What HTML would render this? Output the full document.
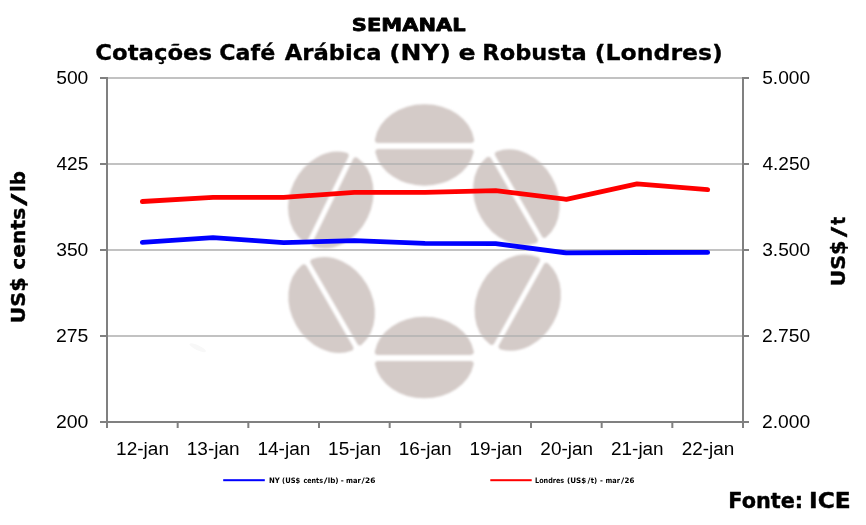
<!DOCTYPE html>
<html lang="pt-BR">
<head>
<meta charset="utf-8">
<title>Cotações Café Arábica (NY) e Robusta (Londres)</title>
<style>
html,body{margin:0;padding:0;background:#fff;}
body{width:866px;height:525px;overflow:hidden;}
svg{display:block;}
.v{font-family:"DejaVu Sans","Liberation Sans",sans-serif;font-weight:bold;fill:#000;}
.c{font-family:"Liberation Sans",sans-serif;font-size:18px;fill:#000;}
</style>
</head>
<body>
<svg width="866" height="525" viewBox="0 0 866 525">
<defs><filter id="bl" x="-5%" y="-5%" width="110%" height="110%"><feGaussianBlur stdDeviation="0.8"/></filter></defs>
<rect width="866" height="525" fill="#fff"/>
<g fill="#d4cbc8" stroke="#d4cbc8" stroke-width="6" stroke-linejoin="round" filter="url(#bl)">
<path transform="translate(424.5,145.0) rotate(0)" d="M-46.57,-5.10 A47.00,37.80 0 0 1 46.57,-5.10 Z M-46.16,7.10 A47.00,37.80 0 0 0 46.16,7.10 Z"/>
<path transform="translate(516.4,197.3) rotate(60)" d="M-46.50,-5.50 A47.00,37.80 0 0 1 46.50,-5.50 Z M-46.50,5.50 A47.00,37.80 0 0 0 46.50,5.50 Z"/>
<path transform="translate(517.7,302.7) rotate(-61)" d="M-46.76,-3.80 A47.00,37.80 0 0 1 46.76,-3.80 Z M-46.14,7.20 A47.00,37.80 0 0 0 46.14,7.20 Z"/>
<path transform="translate(424.3,357.5) rotate(0)" d="M-46.48,-5.60 A47.00,37.80 0 0 1 46.48,-5.60 Z M-46.32,6.40 A47.00,37.80 0 0 0 46.32,6.40 Z"/>
<path transform="translate(331.6,305.0) rotate(60)" d="M-46.44,-5.80 A47.00,37.80 0 0 1 46.44,-5.80 Z M-46.55,5.20 A47.00,37.80 0 0 0 46.55,5.20 Z"/>
<path transform="translate(330.8,200.0) rotate(-64)" d="M-46.38,-6.10 A47.00,37.80 0 0 1 46.38,-6.10 Z M-46.57,5.10 A47.00,37.80 0 0 0 46.57,5.10 Z"/>
</g>
<ellipse cx="197.7" cy="347.7" rx="9" ry="2.5" transform="rotate(25 197.7 347.7)" fill="#f8f8f8"/>
<g>
<rect x="108" y="77.2" width="634" height="1.6" fill="#b4b4b4"/>
<rect x="108" y="163.2" width="634" height="1.6" fill="#b4b4b4"/>
<rect x="108" y="249.2" width="634" height="1.6" fill="#b4b4b4"/>
<rect x="108" y="335.2" width="634" height="1.6" fill="#b4b4b4"/>
</g>
<g fill="#808080">
<rect x="106" y="77" width="2" height="351"/>
<rect x="742" y="77" width="2" height="351"/>
<rect x="106" y="421" width="638" height="2"/>
<rect x="100" y="77" width="7" height="2"/><rect x="743" y="77" width="6" height="2"/>
<rect x="100" y="163" width="7" height="2"/><rect x="743" y="163" width="6" height="2"/>
<rect x="100" y="249" width="7" height="2"/><rect x="743" y="249" width="6" height="2"/>
<rect x="100" y="335" width="7" height="2"/><rect x="743" y="335" width="6" height="2"/>
<rect x="100" y="421" width="7" height="2"/><rect x="743" y="421" width="6" height="2"/>
<rect x="106.00" y="422" width="2" height="6"/>
<rect x="176.67" y="422" width="2" height="6"/>
<rect x="247.33" y="422" width="2" height="6"/>
<rect x="318.00" y="422" width="2" height="6"/>
<rect x="388.67" y="422" width="2" height="6"/>
<rect x="459.33" y="422" width="2" height="6"/>
<rect x="530.00" y="422" width="2" height="6"/>
<rect x="600.67" y="422" width="2" height="6"/>
<rect x="671.33" y="422" width="2" height="6"/>
<rect x="742.00" y="422" width="2" height="6"/>
</g>
<polyline points="142.33,201.50 213.00,197.40 283.67,197.40 354.33,192.30 425.00,192.30 495.67,190.60 566.33,199.30 637.00,183.90 707.67,189.70" fill="none" stroke="#ff0000" stroke-width="4.8" stroke-linecap="round" stroke-linejoin="round"/>
<polyline points="142.33,242.40 213.00,237.70 283.67,242.60 354.33,240.60 425.00,243.40 495.67,243.70 566.33,252.90 637.00,252.50 707.67,252.40" fill="none" stroke="#0000ff" stroke-width="4.8" stroke-linecap="round" stroke-linejoin="round"/>
<g class="c">
<text x="56.2" y="84.4" font-size="18" textLength="32.16" lengthAdjust="spacingAndGlyphs">500</text>
<text x="56.47" y="170.4" font-size="18" textLength="31.88" lengthAdjust="spacingAndGlyphs">425</text>
<text x="56.2" y="256.4" font-size="18" textLength="32.16" lengthAdjust="spacingAndGlyphs">350</text>
<text x="55.92" y="342.4" font-size="18" textLength="32.44" lengthAdjust="spacingAndGlyphs">275</text>
<text x="55.92" y="428.4" font-size="18" textLength="32.44" lengthAdjust="spacingAndGlyphs">200</text>
<text x="762.2" y="84.4" font-size="18" textLength="47.95" lengthAdjust="spacingAndGlyphs">5.000</text>
<text x="762.47" y="170.4" font-size="18" textLength="47.67" lengthAdjust="spacingAndGlyphs">4.250</text>
<text x="762.2" y="256.4" font-size="18" textLength="47.95" lengthAdjust="spacingAndGlyphs">3.500</text>
<text x="761.93" y="342.4" font-size="18" textLength="48.22" lengthAdjust="spacingAndGlyphs">2.750</text>
<text x="761.93" y="428.4" font-size="18" textLength="48.22" lengthAdjust="spacingAndGlyphs">2.000</text>
<text x="116.11" y="455.0" font-size="18" textLength="52.89" lengthAdjust="spacingAndGlyphs">12-jan</text>
<text x="186.78" y="455.0" font-size="18" textLength="52.89" lengthAdjust="spacingAndGlyphs">13-jan</text>
<text x="257.45" y="455.0" font-size="18" textLength="52.89" lengthAdjust="spacingAndGlyphs">14-jan</text>
<text x="328.11" y="455.0" font-size="18" textLength="52.89" lengthAdjust="spacingAndGlyphs">15-jan</text>
<text x="398.78" y="455.0" font-size="18" textLength="52.89" lengthAdjust="spacingAndGlyphs">16-jan</text>
<text x="469.45" y="455.0" font-size="18" textLength="52.89" lengthAdjust="spacingAndGlyphs">19-jan</text>
<text x="540.38" y="455.0" font-size="18" textLength="52.61" lengthAdjust="spacingAndGlyphs">20-jan</text>
<text x="611.05" y="455.0" font-size="18" textLength="52.61" lengthAdjust="spacingAndGlyphs">21-jan</text>
<text x="681.72" y="455.0" font-size="18" textLength="52.61" lengthAdjust="spacingAndGlyphs">22-jan</text>
</g>
<g class="v">
<text x="351.85" y="31.3" font-size="18.2" textLength="113.76" lengthAdjust="spacingAndGlyphs" stroke="#000" stroke-width="0.8" stroke-linejoin="round">SEMANAL</text>
<text y="60.4" font-size="22" stroke="#000" stroke-width="0.3" stroke-linejoin="round"><tspan x="95.32" textLength="116.71" lengthAdjust="spacingAndGlyphs">Cotações</tspan> <tspan x="219.29" textLength="55.9" lengthAdjust="spacingAndGlyphs">Café</tspan> <tspan x="284.7" textLength="96.81" lengthAdjust="spacingAndGlyphs">Arábica</tspan> <tspan x="389.21" textLength="61.82" lengthAdjust="spacingAndGlyphs">(NY)</tspan> <tspan x="458.44" textLength="17.12" lengthAdjust="spacingAndGlyphs">e</tspan> <tspan x="482.31" textLength="104.41" lengthAdjust="spacingAndGlyphs">Robusta</tspan> <tspan x="594.82" textLength="128.08" lengthAdjust="spacingAndGlyphs">(Londres)</tspan></text>
<g transform="translate(24.7,321.7) rotate(-90)"><text y="0" font-size="20" stroke="#000" stroke-width="0.4" stroke-linejoin="round"><tspan x="-1.81" textLength="46.07" lengthAdjust="spacingAndGlyphs">US$</tspan> <tspan x="51.94" textLength="61.99" lengthAdjust="spacingAndGlyphs">cents</tspan><tspan x="115.73" textLength="12.45" lengthAdjust="spacingAndGlyphs">/</tspan><tspan x="129.82" textLength="20.84" lengthAdjust="spacingAndGlyphs">lb</tspan></text>
</g>
<g transform="translate(844.7,284.8) rotate(-90)"><text y="0" font-size="20" stroke="#000" stroke-width="0.4" stroke-linejoin="round"><tspan x="-1.81" textLength="46.07" lengthAdjust="spacingAndGlyphs">US$</tspan><tspan x="47.56" textLength="10.47" lengthAdjust="spacingAndGlyphs">/</tspan><tspan x="60.1" textLength="7.96" lengthAdjust="spacingAndGlyphs">t</tspan></text>
</g>
<text y="507.5" font-size="21" stroke="#000" stroke-width="0.4" stroke-linejoin="round"><tspan x="728.27" textLength="74.82" lengthAdjust="spacingAndGlyphs">Fonte:</tspan> <tspan x="809.06" textLength="41.72" lengthAdjust="spacingAndGlyphs">ICE</tspan></text>
</g>
<rect x="223.2" y="479.2" width="41.6" height="2" fill="#0000ff"/>
<rect x="490.3" y="479.2" width="41.4" height="2" fill="#ff0000"/>
<g class="v">
<text y="483.2" font-size="7.4"><tspan x="268.9" textLength="10.85" lengthAdjust="spacingAndGlyphs">NY</tspan> <tspan x="282.11" textLength="18.14" lengthAdjust="spacingAndGlyphs">(US$</tspan> <tspan x="303.38" textLength="19.62" lengthAdjust="spacingAndGlyphs">cents</tspan><tspan x="323.7" textLength="3.68" lengthAdjust="spacingAndGlyphs">/</tspan><tspan x="327.72" textLength="10.87" lengthAdjust="spacingAndGlyphs">lb)</tspan> <tspan x="340.81" textLength="3.01" lengthAdjust="spacingAndGlyphs">-</tspan> <tspan x="346.05" textLength="14.74" lengthAdjust="spacingAndGlyphs">mar</tspan><tspan x="361.5" textLength="3.24" lengthAdjust="spacingAndGlyphs">/</tspan><tspan x="365.1" textLength="10.35" lengthAdjust="spacingAndGlyphs">26</tspan></text>
<text y="483.2" font-size="7.4"><tspan x="535.05" textLength="29.11" lengthAdjust="spacingAndGlyphs">Londres</tspan> <tspan x="566.97" textLength="19.32" lengthAdjust="spacingAndGlyphs">(US$</tspan><tspan x="587.4" textLength="2.92" lengthAdjust="spacingAndGlyphs">/</tspan><tspan x="590.8" textLength="6.42" lengthAdjust="spacingAndGlyphs">t)</tspan> <tspan x="600.03" textLength="2.87" lengthAdjust="spacingAndGlyphs">-</tspan> <tspan x="605.56" textLength="14.42" lengthAdjust="spacingAndGlyphs">mar</tspan><tspan x="621.0" textLength="3.24" lengthAdjust="spacingAndGlyphs">/</tspan><tspan x="624.52" textLength="9.8" lengthAdjust="spacingAndGlyphs">26</tspan></text>
</g>
</svg>
</body>
</html>
